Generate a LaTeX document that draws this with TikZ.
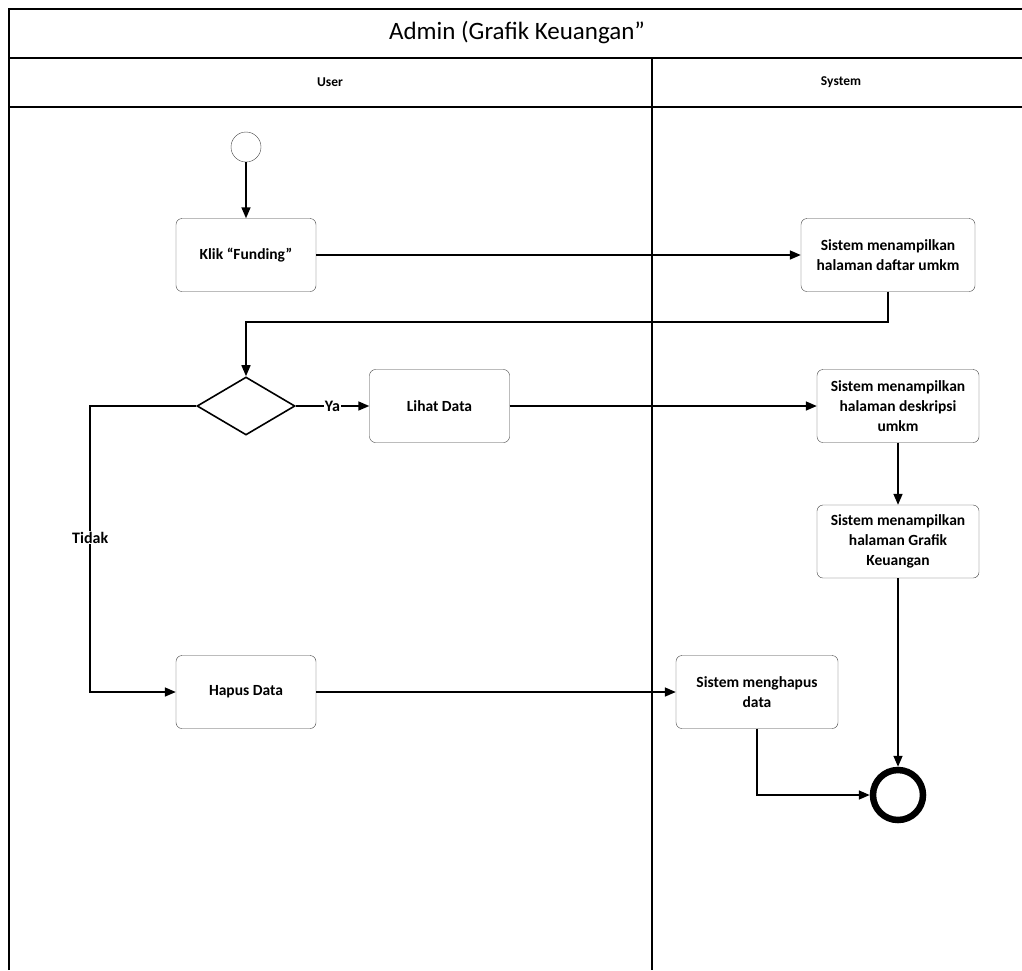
\documentclass[tikz,border=0pt]{standalone}
\usepackage{fontspec}
\setmainfont{Carlito}
\usetikzlibrary{arrows.meta, shapes.geometric, positioning}

\begin{document}
\begin{tikzpicture}[x=1pt, y=-1pt,
	lane/.style={line width=2pt},
	act/.style={draw=black!75, rounded corners=6pt, minimum width=140pt,
	minimum height=73pt, align=center, inner sep=2pt,
	font=\fontsize{15.5}{20}\selectfont\bfseries},
	sys/.style={act, minimum width=162pt},
	flow/.style={line width=1.6pt, -{Triangle[length=11pt, width=9pt]}},
	tag/.style={fill=white, inner sep=1pt, font=\fontsize{16}{18}\selectfont\bfseries}]
	\useasboundingbox (0,0) rectangle (1022,970);

	% swimlane frame
	\draw [lane] (9,970) -- (9,9) -- (1022,9);
	\draw [lane] (9,58) -- (1022,58);
	\draw [lane] (9,107) -- (1022,107);
	\draw [lane] (652,58) -- (652,970);
	\node (title) at (517,33) {\fontsize{25}{28}\selectfont Admin (Grafik Keuangan”};
	\node [font=\fontsize{13.5}{16}\selectfont\bfseries] (user) at (330,82) {User};
	\node [font=\fontsize{13.5}{16}\selectfont\bfseries] (system) at (841,82) {System};

	% user lane
	\node [draw=black!75, circle, minimum size=30pt, inner sep=0pt] (start) at (246,147) {};
	\node [act] (klik) at (246,255) {Klik “Funding”};
	\node [draw, diamond, line width=1.6pt, minimum width=98pt, minimum height=58pt,
	inner sep=0pt, aspect=1.7] (pilih) at (246,406) {};
	\node [act] (lihat) at (439.5,406) {Lihat Data};
	\node [act] (hapus) at (246,692) {Hapus Data};

	% system lane
	\node [sys, minimum width=174pt] (daftar) at (888,255) {Sistem menampilkan\\halaman daftar umkm};
	\node [sys] (deskripsi) at (898,406) {Sistem menampilkan\\halaman deskripsi\\umkm};
	\node [sys] (grafik) at (898,541.5) {Sistem menampilkan\\halaman Grafik\\Keuangan};
	\node [sys] (menghapus) at (757,692) {Sistem menghapus\\data};
	\node [draw, circle, line width=6.5pt, minimum size=50pt, inner sep=0pt] (selesai) at (898,795) {};

	% connectors
	\draw [flow] (start) -- (klik);
	\draw [flow] (klik) -- (daftar);
	\draw [flow] (daftar.south) -- ++(0,30) -| (pilih.north);
	\draw [flow] (pilih.east) -- node [tag] {Ya} (lihat.west);
	\draw [flow] (lihat) -- (deskripsi);
	\draw [flow] (deskripsi) -- (grafik);
	\draw [flow] (grafik) -- (selesai);
	\draw [flow] (pilih.west) -- ++(-106,0) |- node [tag, pos=0.23] {Tidak} (hapus.west);
	\draw [flow] (hapus) -- (menghapus);
	\draw [flow] (menghapus.south) |- (selesai.west);
\end{tikzpicture}
\end{document}
